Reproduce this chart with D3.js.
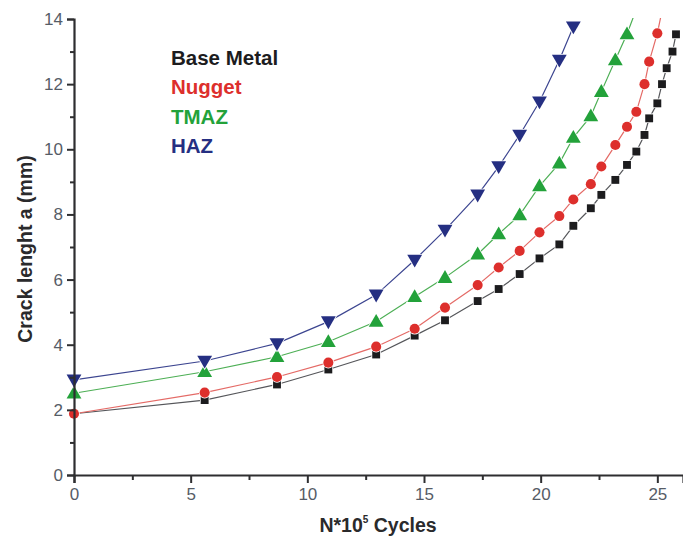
<!DOCTYPE html>
<html>
<head>
<meta charset="utf-8">
<script src="https://cdn.jsdelivr.net/npm/d3@7"></script>
<style>
  html, body { margin: 0; padding: 0; background: #fff; }
  svg { display: block; }
</style>
</head>
<body>
<svg id="chart" width="683" height="544"></svg>
<script>
// Fatigue crack growth: crack length vs. number of cycles (x 10^5)
const cycles = [0, 5.6, 8.7, 10.9, 12.95, 14.6, 15.9, 17.3, 18.2, 19.1, 19.95, 20.8, 21.4,
                22.15, 22.6, 23.2, 23.7, 24.1, 24.45, 24.65, 25.0, 25.2, 25.4, 25.65, 25.8];

const baseMetal = [1.88, 2.30, 2.78, 3.24, 3.70, 4.28, 4.75, 5.34, 5.71, 6.17, 6.65, 7.08, 7.65,
                   8.19, 8.60, 9.06, 9.52, 9.93, 10.44, 10.95, 11.41, 12.0, 12.49, 13.0, 13.53];
const nugget    = [1.88, 2.53, 3.01, 3.45, 3.94, 4.49, 5.14, 5.83, 6.37, 6.88, 7.45, 7.95, 8.46,
                   8.93, 9.47, 10.13, 10.69, 11.15, 12.0, 12.69, 13.56, 14.25];
const tmaz      = [2.51, 3.17, 3.63, 4.09, 4.71, 5.47, 6.06, 6.78, 7.40, 7.98, 8.87, 9.57, 10.36,
                   11.02, 11.77, 12.74, 13.54, 14.3];
const haz       = [2.92, 3.50, 4.04, 4.71, 5.53, 6.60, 7.52, 8.60, 9.47, 10.44, 11.46, 12.74, 13.76];

const seriesNames = ["Base Metal", "Nugget", "TMAZ", "HAZ"];
const xTicks = [0, 5, 10, 15, 20, 25];
const yTicks = [0, 2, 4, 6, 8, 10, 12, 14];

const series = [
  { name: seriesNames[0], values: baseMetal, color: "#1c1c1e", line: "#55565a", symbol: d3.symbolSquare,   size: 62 },
  { name: seriesNames[1], values: nugget,    color: "#dd2f2c", line: "#e46a66", symbol: d3.symbolCircle,   size: 80 },
  { name: seriesNames[2], values: tmaz,      color: "#23a23a", line: "#4daf55", symbol: d3.symbolTriangle, size: 95 },
  { name: seriesNames[3], values: haz,       color: "#252f82", line: "#3c4590", symbol: d3.symbolTriangle, size: 95, flip: true }
];

const svg = d3.select("#chart");
const mLeft = 74, mRight = 683, mTop = 19, mBottom = 475;

const x = d3.scaleLinear().domain([0, 26.1]).range([mLeft, mRight]);
const y = d3.scaleLinear().domain([0, 14]).range([mBottom, mTop]);

const axisColor = "#2e2e30";
const tickText = "#565c66";

// clip region for the plotted curves
svg.append("defs").append("clipPath").attr("id", "plotClip")
  .append("rect").attr("x", mLeft - 10).attr("y", mTop - 1)
  .attr("width", mRight - mLeft + 10).attr("height", mBottom - mTop + 10);

const plot = svg.append("g").attr("clip-path", "url(#plotClip)");

const line = d3.line().x(d => x(d[0])).y(d => y(d[1]));

series.forEach(s => {
  const pts = s.values.map((v, i) => [cycles[i], v]);
  plot.append("path")
    .datum(pts)
    .attr("fill", "none")
    .attr("stroke", s.line)
    .attr("stroke-width", 1.2)
    .attr("d", line);

  plot.selectAll(null)
    .data(pts.filter(p => p[1] <= 14))
    .enter().append("path")
    .attr("d", d3.symbol().type(s.symbol).size(s.size))
    .attr("transform", p => `translate(${x(p[0])},${y(p[1]) + (s.symbol === d3.symbolTriangle ? (s.flip ? -1 : 1) : 0)})` + (s.flip ? " rotate(180)" : ""))
    .attr("fill", s.color)
    .attr("stroke", "#fff")
    .attr("stroke-width", 1.6)
    .attr("paint-order", "stroke");
});

// axes
const xAxis = d3.axisBottom(x).tickValues(xTicks).tickSize(8).tickPadding(5).tickFormat(d3.format("d"));
const xMinor = d3.axisBottom(x).tickValues([2.5, 7.5, 12.5, 17.5, 22.5]).tickSize(5).tickFormat("");
const yAxis = d3.axisLeft(y).tickValues(yTicks).tickSize(7).tickPadding(4).tickFormat(d3.format("d"));
const yMinor = d3.axisLeft(y).tickValues([1, 3, 5, 7, 9, 11, 13]).tickSize(4).tickFormat("");

function styleAxis(g) {
  g.select(".domain").attr("stroke", axisColor).attr("stroke-width", 2.2);
  g.selectAll(".tick line").attr("stroke", axisColor).attr("stroke-width", 2);
  g.selectAll(".tick text")
    .attr("fill", tickText)
    .style("font-family", "'Liberation Sans', Arial, sans-serif")
    .style("font-size", "17px");
}

svg.append("g").attr("transform", `translate(0,${mBottom})`).call(xMinor).call(styleAxis)
  .select(".domain").remove();
svg.append("g").attr("transform", `translate(0,${mBottom})`).call(xAxis).call(styleAxis);
svg.append("g").attr("transform", `translate(${mLeft},0)`).call(yMinor).call(styleAxis)
  .select(".domain").remove();
svg.append("g").attr("transform", `translate(${mLeft},0)`).call(yAxis).call(styleAxis);

// axis titles
const titleFont = "'Liberation Sans', Arial, sans-serif";
svg.append("text")
  .attr("transform", "translate(32,249) rotate(-90)")
  .attr("text-anchor", "middle")
  .style("font-family", titleFont).style("font-weight", "bold").style("font-size", "19.5px")
  .attr("fill", "#2a2a2c")
  .text("Crack lenght a (mm)");

const xt = svg.append("text")
  .attr("x", 378).attr("y", 532)
  .attr("text-anchor", "middle")
  .style("font-family", titleFont).style("font-weight", "bold").style("font-size", "19.5px")
  .attr("fill", "#2a2a2c");
xt.append("tspan").text("N*10");
xt.append("tspan").attr("dy", -9).style("font-size", "10px").text("5");
xt.append("tspan").attr("dy", 9).text(" Cycles");

// legend: coloured names only
svg.append("g").selectAll("text")
  .data(series)
  .enter().append("text")
  .attr("x", 171)
  .attr("y", (d, i) => 64.5 + i * 29.5)
  .style("font-family", titleFont).style("font-weight", "bold").style("font-size", "20.5px")
  .attr("fill", d => d.color)
  .text(d => d.name);
</script>
</body>
</html>
